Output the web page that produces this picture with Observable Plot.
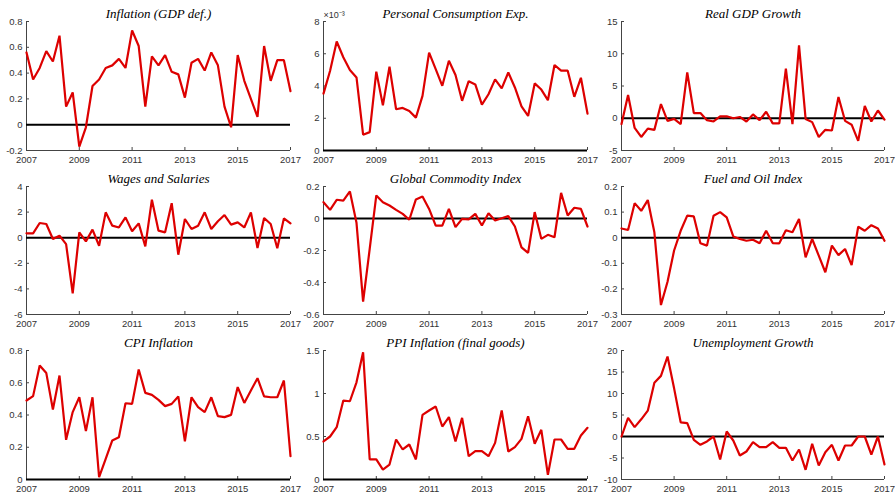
<!DOCTYPE html>
<html><head><meta charset="utf-8">
<script src="https://cdn.jsdelivr.net/npm/d3@7"></script>
<script src="https://cdn.jsdelivr.net/npm/@observablehq/plot@0.6"></script>
<style>
html,body{margin:0;padding:0;background:#fff;}
#wrap{position:relative;width:895px;height:494px;overflow:hidden;background:#fff;}
#wrap svg{position:absolute;overflow:visible;background:transparent;}
</style></head><body><div id="wrap"></div>
<script>
// Quarterly observations 2007Q1 .. 2017Q1 (41 quarters)
const quarters = d3.range(41).map(i => 2007 + i / 4);
const yearTicks = [2007, 2009, 2011, 2013, 2015, 2017];

const inflationGDP = [0.56,0.35,0.44,0.57,0.49,0.69,0.14,0.25,-0.17,-0.02,0.30,0.35,0.44,0.46,0.51,0.44,0.73,0.61,0.14,0.53,0.46,0.54,0.41,0.39,0.21,0.48,0.51,0.42,0.56,0.46,0.14,-0.02,0.54,0.34,0.20,0.06,0.61,0.34,0.50,0.50,0.26];
const personalConsumption = [3.53e-3,4.95e-3,6.76e-3,5.78e-3,4.99e-3,4.53e-3,0.98e-3,1.14e-3,4.89e-3,2.80e-3,5.20e-3,2.56e-3,2.64e-3,2.45e-3,2.04e-3,3.39e-3,6.07e-3,5.05e-3,4.01e-3,5.57e-3,4.68e-3,3.08e-3,4.30e-3,4.10e-3,2.85e-3,3.49e-3,4.41e-3,3.85e-3,4.84e-3,3.91e-3,2.74e-3,2.14e-3,4.16e-3,3.78e-3,3.12e-3,5.30e-3,4.95e-3,4.95e-3,3.33e-3,4.51e-3,2.29e-3];
const realGDPGrowth = [-0.9,3.6,-1.5,-2.9,-1.6,-1.8,2.2,-0.4,-0.1,-0.9,7.1,0.8,0.8,-0.3,-0.5,0.3,0.3,0.0,0.2,-0.5,0.6,-0.3,1.0,-0.8,-0.8,7.7,-0.9,11.3,-0.1,-0.6,-2.9,-1.8,-1.9,3.3,-0.4,-1.0,-3.5,1.9,-0.5,1.2,-0.2];
const wagesSalaries = [0.34,0.34,1.15,1.07,-0.10,0.16,-0.50,-4.35,0.42,-0.29,0.63,-0.63,1.98,0.94,0.80,1.59,0.50,1.12,-0.68,2.97,0.55,0.42,2.70,-1.33,1.46,0.68,0.94,1.98,0.68,1.28,1.77,1.02,1.20,0.80,1.98,-0.80,1.54,1.07,-0.83,1.51,1.12];
const globalCommodity = [0.102,0.054,0.117,0.112,0.169,-0.027,-0.52,-0.19,0.144,0.102,0.081,0.054,0.029,-0.008,0.119,0.137,0.06,-0.044,-0.044,0.06,-0.054,-0.002,-0.006,0.029,-0.044,0.033,-0.012,0.002,0.015,-0.05,-0.18,-0.215,0.04,-0.127,-0.102,-0.117,0.16,0.019,0.067,0.06,-0.05];
const fuelOil = [0.036,0.030,0.135,0.105,0.147,0.021,-0.263,-0.172,-0.050,0.027,0.086,0.083,-0.022,-0.031,0.086,0.100,0.079,0.005,-0.005,-0.012,-0.008,-0.022,0.027,-0.021,-0.022,0.029,0.021,0.073,-0.077,-0.005,-0.070,-0.135,-0.031,-0.068,-0.044,-0.107,0.043,0.027,0.049,0.036,-0.012];
const cpiInflation = [0.49,0.517,0.707,0.66,0.434,0.645,0.246,0.418,0.51,0.30,0.51,0.014,0.128,0.242,0.262,0.473,0.469,0.682,0.537,0.525,0.494,0.455,0.469,0.515,0.236,0.51,0.449,0.418,0.51,0.393,0.387,0.401,0.573,0.475,0.552,0.628,0.515,0.51,0.51,0.614,0.145];
const ppiInflation = [0.442,0.50,0.608,0.918,0.91,1.13,1.48,0.233,0.233,0.116,0.174,0.465,0.349,0.407,0.233,0.752,0.802,0.849,0.616,0.725,0.442,0.717,0.271,0.329,0.329,0.271,0.426,0.802,0.326,0.376,0.473,0.736,0.415,0.578,0.054,0.465,0.465,0.357,0.357,0.512,0.601];
const unemploymentGrowth = [0,4.34,2.17,4.0,6.0,12.5,14.1,18.6,11.2,3.3,3.1,-0.78,-1.94,-1.16,0,-5.35,1.16,-0.93,-4.42,-3.49,-1.32,-2.48,-2.48,-1.32,-2.64,-2.64,-5.58,-3.02,-7.75,-1.7,-6.74,-3.64,-1.94,-5.58,-2.09,-2.09,0,0,-4.19,0,-6.5];

const titles = ["Inflation (GDP def.)","Personal Consumption Exp.","Real GDP Growth","Wages and Salaries","Global Commodity Index","Fuel and Oil Index","CPI Inflation","PPI Inflation (final goods)","Unemployment Growth"];
const series = [inflationGDP, personalConsumption, realGDPGrowth, wagesSalaries, globalCommodity, fuelOil, cpiInflation, ppiInflation, unemploymentGrowth];
const yTickSets = [
  [-0.2,0,0.2,0.4,0.6,0.8],
  [0,2e-3,4e-3,6e-3,8e-3],
  [-5,0,5,10,15],
  [-6,-4,-2,0,2,4],
  [-0.6,-0.4,-0.2,0,0.2],
  [-0.3,-0.2,-0.1,0,0.1,0.2],
  [0,0.2,0.4,0.6,0.8],
  [0,0.5,1,1.5],
  [-10,-5,0,5,10,15,20]
];
const exponentLabels = [null,"\u00d710\u207b\u00b3",null,null,null,null,null,null,null];

// layout (pixels)
const colLeft = [26, 323, 621], colWidth = [264, 264, 263];
const rowTop = [21, 186, 350], rowHeight = [129, 128, 129];
const mL = 40, mR = 20, mT = 26, mB = 20;

const fmt = d => String(+d.toFixed(2));
const wrap = document.getElementById("wrap");

series.forEach((vals, k) => {
  const r = Math.floor(k / 3), c = k % 3;
  const w = colWidth[c], h = rowHeight[r];
  const ticks = yTickSets[k];
  const dom = [ticks[0], ticks[ticks.length - 1]];
  const tf = k === 1 ? (d => String(Math.round(d * 1000))) : fmt;
  const marks = [
    Plot.axisX(yearTicks, {tickSize: 0, tickPadding: 6, tickFormat: d => String(d), fontSize: 9.5, fill: "#333"}),
    Plot.axisY(ticks, {tickSize: 0, tickPadding: 4, tickFormat: tf, fontSize: 9.5, fill: "#333"}),
    Plot.tickX(yearTicks, {insetTop: h - 3, stroke: "#444"}),
    Plot.tickY(ticks, {insetRight: w - 3, stroke: "#444"}),
    Plot.ruleX([2007], {stroke: "#444", strokeWidth: 1}),
    Plot.ruleY([dom[0]], {stroke: "#444", strokeWidth: 1}),
    Plot.ruleY([0], {stroke: "#000", strokeWidth: 2}),
    Plot.line(vals, {x: quarters, y: vals, stroke: "#dd0000", strokeWidth: 2.2, strokeLinejoin: "miter"}),
    Plot.text([titles[k]], {frameAnchor: "top", lineAnchor: "middle", dy: -8, fontFamily: "Liberation Serif, serif", fontStyle: "italic", fontSize: 13, fill: "#000"})
  ];
  if (exponentLabels[k]) {
    marks.push(Plot.text([exponentLabels[k]], {frameAnchor: "top-left", lineAnchor: "middle", dy: -6, dx: 0, textAnchor: "start", fontSize: 9, fill: "#333"}));
  }
  const svg = Plot.plot({
    width: w + mL + mR, height: h + mT + mB,
    marginLeft: mL, marginRight: mR, marginTop: mT, marginBottom: mB,
    style: {fontFamily: "Liberation Sans, Arial, sans-serif", fontSize: "10px", background: "transparent", overflow: "visible"},
    x: {domain: [2007, 2017]},
    y: {domain: dom},
    marks
  });
  svg.style.left = (colLeft[c] - mL) + "px";
  svg.style.top = (rowTop[r] - mT) + "px";
  wrap.appendChild(svg);
});
</script></body></html>
